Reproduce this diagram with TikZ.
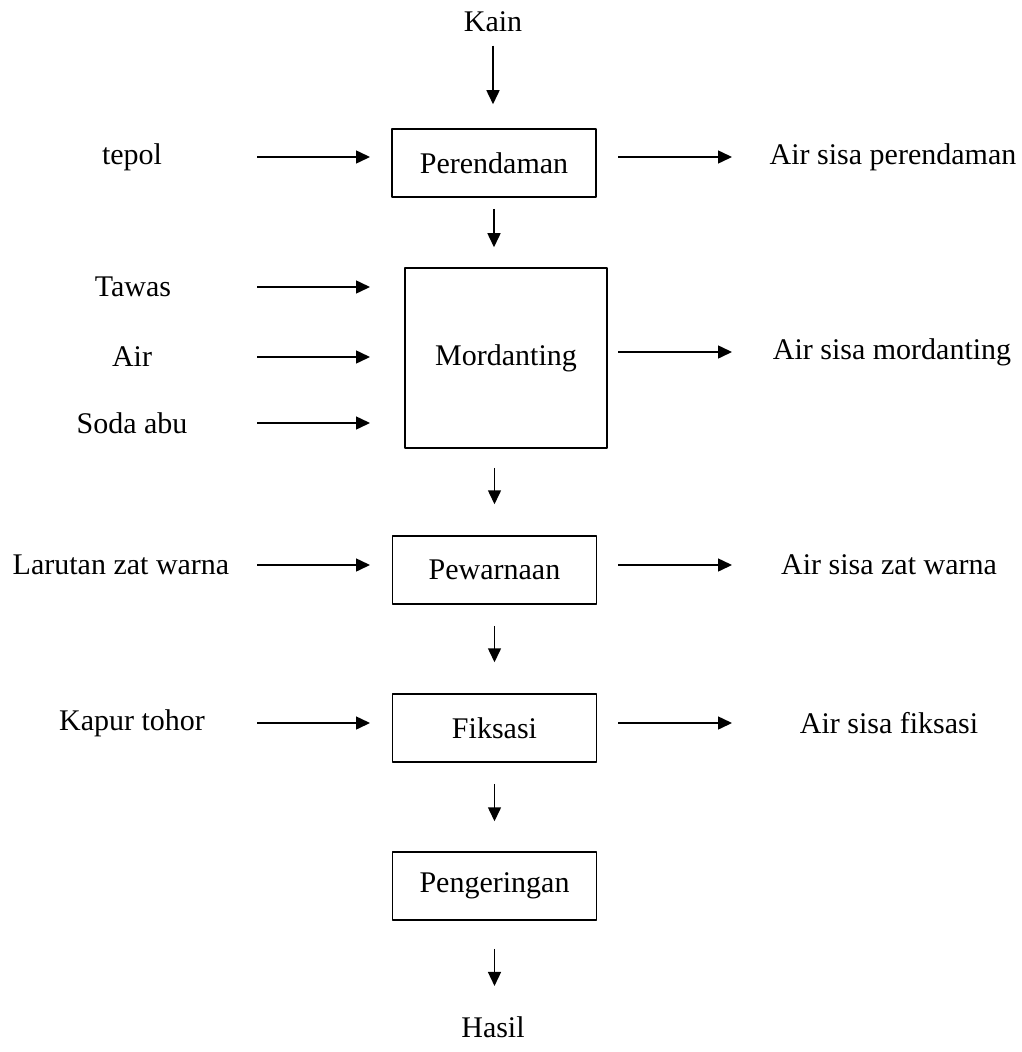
\documentclass[tikz,border=0pt]{standalone}
\usepackage{fontspec}
\setmainfont{Liberation Serif}
\usetikzlibrary{arrows.meta}

\begin{document}
\begin{tikzpicture}[
  x={(0.4pt,0pt)},
  y={(0pt,-0.4pt)},
  font=\fontsize{12}{14}\selectfont,
  line join=round,
  proses/.style={draw,line width=0.6pt,minimum width=81.6pt,minimum height=27.2pt,inner sep=0pt},
  bahan/.style={inner sep=0pt},
  alir/.style={line width=0.6pt,-{Triangle[length=5.6pt,width=5.2pt]}},
  jarak/.style 2 args={shorten <=#1,shorten >=#2}
]
  \useasboundingbox (0,0) rectangle (1021,1052);

  % Main process column, top to bottom.
  \node[bahan] (kain) at (493,22) {Kain};
  \node[proses] (rendam) at (494,163) {Perendaman};
  \node[proses,minimum width=80.8pt,minimum height=72pt] (mordan) at (506,358) {Mordanting};
  \node[proses] (warna) at (494.5,570) {Pewarnaan};
  \node[proses] (fiksasi) at (494.5,728) {Fiksasi};
  \node[proses] (kering) at (494.5,886) {Pengeringan};
  \node[bahan] (hasil) at (493,1027) {Hasil};

  % Materials going in (left) and waste water coming out (right).
  \node[bahan] (tepol) at (132,157) {tepol};
  \node[bahan] (tawas) at (133,287) {Tawas};
  \node[bahan] (air) at (132,357) {Air};
  \node[bahan] (soda) at (132,423) {Soda abu};
  \node[bahan] (larutan) at (121,565) {Larutan zat warna};
  \node[bahan] (kapur) at (132,723) {Kapur tohor};

  \node[bahan] (sisarendam) at (893,157) {Air sisa perendaman};
  \node[bahan] (sisamordan) at (892,352) {Air sisa mordanting};
  \node[bahan] (sisawarna) at (889,565) {Air sisa zat warna};
  \node[bahan] (sisafiksasi) at (889,723) {Air sisa fiksasi};

  % Horizontal arrows all share the same start and end columns.
  \coordinate (masukL) at (257,0);
  \coordinate (masukR) at (370,0);
  \coordinate (keluarL) at (618,0);
  \coordinate (keluarR) at (732,0);

  \foreach \b in {tepol,tawas,air,soda,larutan,kapur} {
    \draw[alir] (masukL |- \b) -- (masukR |- \b);
  }
  \foreach \b in {sisarendam,sisamordan,sisawarna,sisafiksasi} {
    \draw[alir] (keluarL |- \b) -- (keluarR |- \b);
  }

  % Short downward arrows between the steps.
  \draw[alir,jarak={5.2pt}{9.6pt}] (kain.south) -- (kain.south |- rendam.north);
  \draw[alir,jarak={4.4pt}{8pt}] (rendam.south) -- (rendam.south |- mordan.north);
  \draw[alir,jarak={7.6pt}{12.4pt}] (warna.north |- mordan.south) -- (warna.north);
  \draw[alir,jarak={8.4pt}{12.4pt}] (warna.south) -- (fiksasi.north);
  \draw[alir,jarak={8.4pt}{12pt}] (fiksasi.south) -- (kering.north);
  \draw[alir,jarak={11.2pt}{12pt}] (kering.south) -- (kering.south |- hasil.north);
\end{tikzpicture}
\end{document}
